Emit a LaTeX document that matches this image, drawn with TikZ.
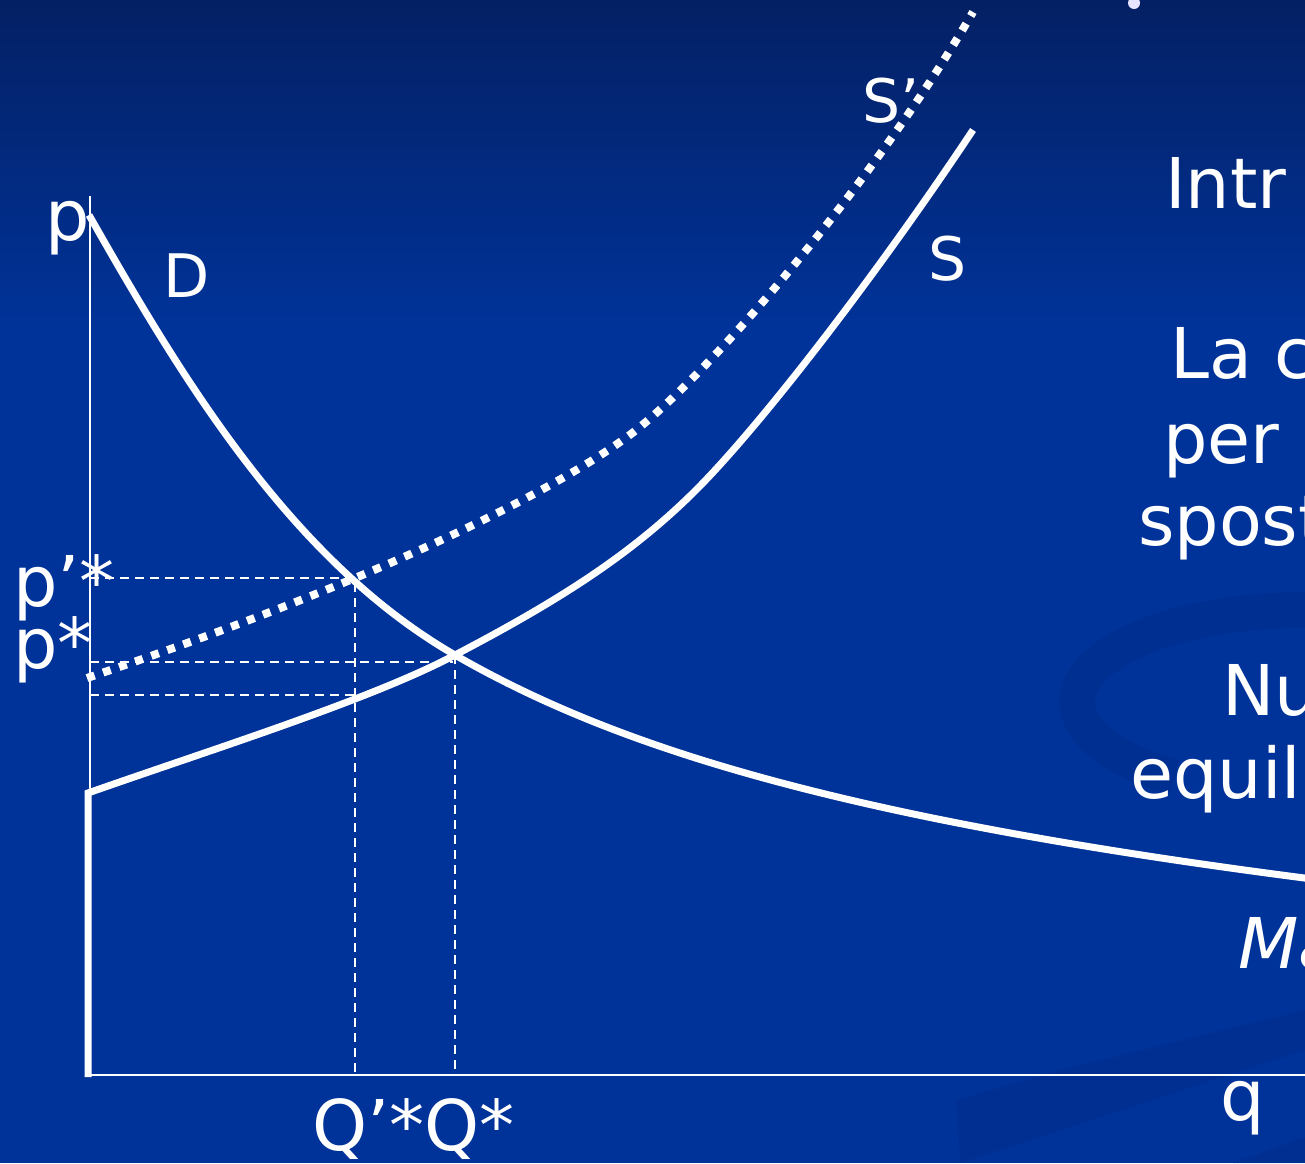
\documentclass[tikz,border=0pt]{standalone}
\usepackage{fontspec}
\setmainfont{DejaVu Sans}
\definecolor{bgblue}{RGB}{0,51,153}
\definecolor{bgtop}{RGB}{4,32,100}
\definecolor{swirl}{RGB}{0,42,135}
\begin{document}
\begin{tikzpicture}[x=1pt,y=-1pt,
  curve/.style={white,line width=7pt},
  shifted/.style={white,line width=8pt,dash pattern=on 8pt off 9pt},
  guide/.style={white,line width=1.5pt,dash pattern=on 9pt off 6pt},
  axisline/.style={white,line width=2pt},
  lbl/.style={text=white,inner sep=0pt,anchor=base west,font=\fontsize{70}{70}\selectfont},
  curvelbl/.style={text=white,inner sep=0pt,anchor=base west,font=\fontsize{60}{60}\selectfont}]
\useasboundingbox (0,0) rectangle (1305,1163);
% background
\begin{scope}
\clip (0,0) rectangle (1305,1163);
\fill[bgblue] (0,0) rectangle (1305,1163);
\shade[top color=bgtop,bottom color=bgblue] (0,0) rectangle (1305,330);
\draw[swirl,line width=36pt,opacity=0.35] (1305,610) arc[start angle=270,end angle=125,x radius=228,y radius=92];
\fill[swirl,opacity=0.4] (960,1163) -- (1000,1150) -- (1305,1050) -- (1305,1010) -- (1050,1073) -- (957,1100) -- cycle;
\fill[swirl,opacity=0.4] (1233,1163) -- (1305,1137) -- (1305,1163) -- cycle;
\fill[white!90!blue] (1134,3) circle[radius=6];
\end{scope}
% coordinates
\coordinate (O) at (90,1075);
\coordinate (Ytop) at (90,196);
\coordinate (Xend) at (1305,1075);
\coordinate (E) at (455,655);
\coordinate (E2) at (355,578);
\coordinate (F) at (355,695);
\coordinate (S0) at (88,793);
\coordinate (Sbot) at (88,1077);
\coordinate (Ppr) at (90,578);
\coordinate (Pst) at (90,662);
\coordinate (Plow) at (90,695);
\coordinate (Qpr) at (355,1075);
\coordinate (Qst) at (455,1075);
\coordinate (Ehor) at (453,662);
% axes
\draw[axisline] (Ytop) -- (O) -- (Xend);
% guides
\draw[guide] (Ppr) -- (E2) -- (Qpr);
\draw[guide] (Pst) -- (Ehor);
\draw[guide] (E) -- (Qst);
\draw[guide] (Plow) -- (F);
% curves
\begin{scope}
\clip (0,0) rectangle (1305,1163);
% demand
\draw[curve] (89,215) .. controls (180,375) and (290,560) .. (E)
  .. controls (620,750) and (850,820) .. (1320,880);
% supply
\draw[curve,line join=miter] (Sbot) -- (S0) .. controls (210,750) and (370,700) .. (E)
  .. controls (560,600) and (630,555) .. (693,493)
  .. controls (760,427) and (880,270) .. (973,130);
% shifted supply
\draw[shifted] (87,678) .. controls (200,640) and (290,605) .. (E2)
  .. controls (420,551) and (550,493) .. (627,437)
  .. controls (700,384) and (870,190) .. (973,12);
% labels
\node[lbl] (lp) at (45,240) {p};
\node[lbl] (lppr) at (13,606) {p’*};
\node[lbl] (lpst) at (13,668) {p*};
\node[lbl] (lQ) at (312,1150) {Q’*Q*};
\node[lbl] (lq) at (1220,1120) {q};
\node[curvelbl] (lD) at (163,297) {D};
\node[curvelbl] (lS) at (928,280) {S};
\node[curvelbl] (lSp) at (862,122) {S’};
% right side text
\node[lbl] (t1) at (1165,208) {Intr};
\node[lbl] (t2) at (1170,378) {La c};
\node[lbl] (t3) at (1163,463) {per i};
\node[lbl] (t4) at (1138,545) {spost};
\node[lbl] (t5) at (1222,715) {Nu};
\node[lbl] (t6) at (1130,798) {equili};
\node[lbl,font=\fontsize{70}{70}\selectfont\itshape] (t7) at (1238,968) {Ma};
\end{scope}
\end{tikzpicture}
\end{document}
